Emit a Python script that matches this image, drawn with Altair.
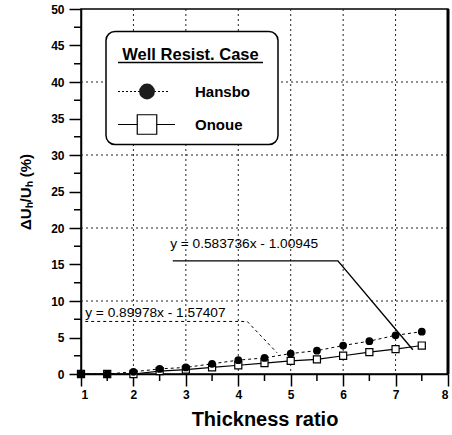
import altair as alt
import pandas as pd

# Settlement-change data for the well-resistance case
ratio = [1, 1.5, 2, 2.5, 3, 3.5, 4, 4.5, 5, 5.5, 6, 6.5, 7, 7.5]
hansbo = [0, 0, 0.3, 0.7, 0.9, 1.4, 1.9, 2.2, 2.8, 3.2, 3.9, 4.5, 5.3, 5.8]
onoue = [0, 0, 0, 0.4, 0.6, 0.9, 1.2, 1.5, 1.8, 2.0, 2.5, 3.0, 3.4, 3.9]

# Axis ticks and grid positions
x_major = [1, 2, 3, 4, 5, 6, 7, 8]
x_minor = [1.5, 2.5, 3.5, 4.5, 5.5, 6.5, 7.5]
y_major = [0, 5, 10, 15, 20, 25, 30, 35, 40, 45, 50]
y_minor = [2.5, 7.5, 12.5, 17.5, 22.5, 27.5, 32.5, 37.5, 42.5, 47.5]
x_grid = [2, 3, 4, 5, 6, 7]
y_grid = [10, 20, 30, 40]

# Regression labels and their leader lines
fit_text = ["y = 0.583736x - 1.00945", "y = 0.89978x - 1.57407"]
fit_text_x = [2.70, 1.08]
fit_text_y = [17.3, 7.85]
lead_onoue_x = [2.75, 5.90, 7.33]
lead_onoue_y = [15.5, 15.5, 3.33]
lead_hansbo_x = [1.08, 4.17, 4.74]
lead_hansbo_y = [7.2, 7.2, 2.9]

FONT = "Liberation Sans"
W, H = 367, 365

df = pd.DataFrame({"ratio": ratio, "Hansbo": hansbo, "Onoue": onoue})
xs = alt.Scale(domain=[1, 8], nice=False, zero=False)
ys = alt.Scale(domain=[0, 50], nice=False)

common = dict(
    domainColor="black", domainWidth=1.5, tickColor="black", tickWidth=1.5,
    labelFont=FONT, labelFontWeight="bold", labelFontSize=12, labelColor="black",
    grid=False,
)

X_AXIS = alt.Axis(
    orient="bottom", values=x_major, tickSize=12, labelPadding=3,
    title="Thickness ratio", titleFont=FONT, titleFontSize=20, titleFontWeight="bold",
    titleColor="black", titlePadding=9, **common,
)
Y_AXIS = alt.Axis(
    orient="left", values=y_major, tickSize=12, labelPadding=5,
    title="ΔUₕ/Uₕ (%)", titleFont=FONT, titleFontSize=15, titleFontWeight="bold",
    titleColor="black", titleX=-56, titleY=H / 2, titleAngle=270,
    titleBaseline="middle", titleAlign="center", **common,
)


def X(field):
    return alt.X(field, type="quantitative", scale=xs, axis=X_AXIS)


def Y(field):
    return alt.Y(field, type="quantitative", scale=ys, axis=Y_AXIS)


grid_style = dict(color="#222", strokeWidth=1, strokeDash=[2, 3])
grid_v = alt.Chart(pd.DataFrame({"g": x_grid})).mark_rule(**grid_style).encode(x=X("g"))
grid_h = alt.Chart(pd.DataFrame({"g": y_grid})).mark_rule(**grid_style).encode(y=Y("g"))

# Minor ticks, half a major step apart
minor_x = alt.Chart(pd.DataFrame({"m": x_minor})).mark_rule(
    color="black", strokeWidth=1.5).encode(x=X("m"), y=alt.value(H), y2=alt.value(H + 7))
minor_y = alt.Chart(pd.DataFrame({"m": y_minor})).mark_rule(
    color="black", strokeWidth=1.5).encode(y=Y("m"), x=alt.value(0), x2=alt.value(-7))

# Heavier right edge of the frame
one = pd.DataFrame({"k": [0]})
right_edge = alt.Chart(one).mark_rule(color="black", strokeWidth=3).encode(
    x=alt.value(W), y=alt.value(0), y2=alt.value(H))


def leader(xv, yv, **style):
    d = pd.DataFrame({"x": xv, "y": yv, "o": list(range(len(xv)))})
    return alt.Chart(d).mark_line(color="black", **style).encode(
        x=X("x"), y=Y("y"), order="o:Q")


lead1 = leader(lead_onoue_x, lead_onoue_y, strokeWidth=1.4)
lead2 = leader(lead_hansbo_x, lead_hansbo_y, strokeWidth=1, strokeDash=[3, 3])

labels = alt.Chart(
    pd.DataFrame({"t": fit_text, "x": fit_text_x, "y": fit_text_y})
).mark_text(align="left", baseline="alphabetic", font=FONT, fontSize=13.7,
            color="black").encode(x=X("x"), y=Y("y"), text="t:N")

line_h = alt.Chart(df).mark_line(color="black", strokeWidth=1, strokeDash=[3, 3]).encode(
    x=X("ratio"), y=Y("Hansbo"))
line_o = alt.Chart(df).mark_line(color="black", strokeWidth=1.2).encode(
    x=X("ratio"), y=Y("Onoue"))
pts_o = alt.Chart(df).mark_point(shape="square", size=50, filled=True, fill="white",
                                 stroke="black", strokeWidth=1.2, opacity=1).encode(
    x=X("ratio"), y=Y("Onoue"))
pts_h = alt.Chart(df).mark_point(shape="circle", size=60, filled=True, color="black",
                                 opacity=1).encode(x=X("ratio"), y=Y("Hansbo"))

# Legend box
lg_box = alt.Chart(one).mark_rect(cornerRadius=9, fill="white", stroke="black",
                                  strokeWidth=1.5).encode(
    x=alt.value(25), x2=alt.value(197), y=alt.value(22.5), y2=alt.value(135.5))
lg_title = alt.Chart(one).mark_text(text="Well Resist. Case", align="center",
                                    baseline="alphabetic", font=FONT, fontSize=16.5,
                                    fontWeight="bold", color="black").encode(
    x=alt.value(109.5), y=alt.value(50.5))
lg_under = alt.Chart(one).mark_rule(color="black", strokeWidth=1.5).encode(
    x=alt.value(37), x2=alt.value(182), y=alt.value(53.5))
lg_hline = alt.Chart(one).mark_rule(color="black", strokeWidth=1, strokeDash=[2, 2]).encode(
    x=alt.value(37), x2=alt.value(89), y=alt.value(82.5))
lg_hpt = alt.Chart(one).mark_point(shape="circle", size=250, filled=True, color="#1c1c1c",
                                   opacity=1).encode(x=alt.value(66), y=alt.value(82.5))
lg_htx = alt.Chart(one).mark_text(text="Hansbo", align="left", baseline="middle", font=FONT,
                                  fontSize=15, fontWeight="bold", color="black").encode(
    x=alt.value(114), y=alt.value(82.5))
lg_oline = alt.Chart(one).mark_rule(color="black", strokeWidth=1.2).encode(
    x=alt.value(37), x2=alt.value(94), y=alt.value(115.5))
lg_opt = alt.Chart(one).mark_point(shape="square", size=380, filled=True, fill="white",
                                   stroke="black", strokeWidth=1.2, opacity=1).encode(
    x=alt.value(66), y=alt.value(115.5))
lg_otx = alt.Chart(one).mark_text(text="Onoue", align="left", baseline="middle", font=FONT,
                                  fontSize=15, fontWeight="bold", color="black").encode(
    x=alt.value(114), y=alt.value(115.5))

chart = alt.layer(
    grid_v, grid_h, minor_x, minor_y, right_edge,
    lead1, lead2, labels, line_o, line_h, pts_o, pts_h,
    lg_box, lg_title, lg_under, lg_hline, lg_hpt, lg_htx, lg_oline, lg_opt, lg_otx,
).properties(
    width=W, height=H,
    padding={"left": 81, "top": 9, "right": 4, "bottom": 61},
    autosize=alt.AutoSizeParams(type="none"),
    background="white",
).configure_view(stroke="black", strokeWidth=1.5)

chart.save("out.html", embed_options={"renderer": "svg", "actions": False})
